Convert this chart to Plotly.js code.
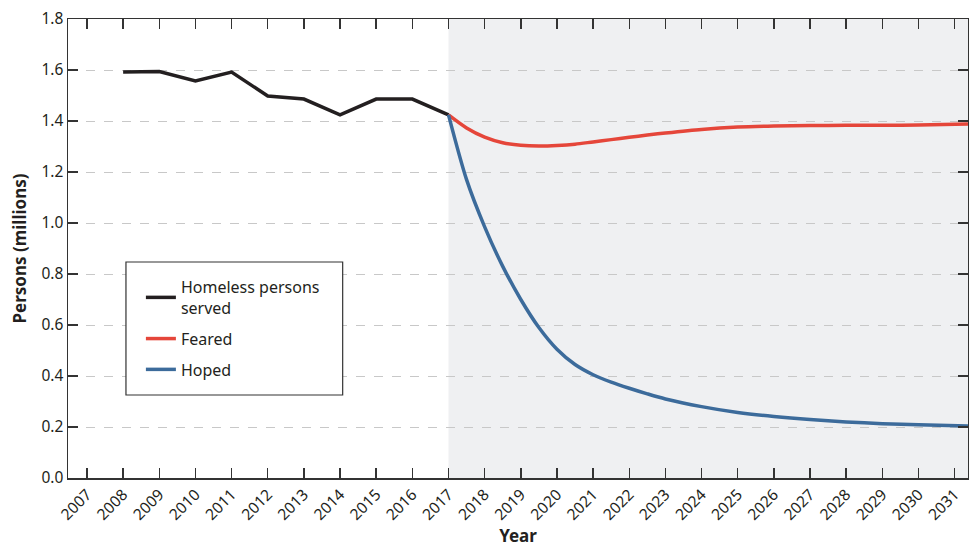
<!DOCTYPE html>
<html>
<head>
<meta charset="utf-8">
<script src="https://cdn.plot.ly/plotly-3.0.1.min.js"></script>
<style>html,body{margin:0;padding:0;background:#fff;}#chart{width:969px;height:547px;}</style>
</head>
<body>
<div id="chart"></div>
<script>
// Historical series
const histYears = [2008, 2009, 2010, 2011, 2012, 2013, 2014, 2015, 2016, 2017];
const histValues = [1.592, 1.594, 1.557, 1.592, 1.498, 1.486, 1.424, 1.486, 1.486, 1.424];

// Projection years
const projYears = [2017, 2017.5, 2018, 2018.5, 2019, 2019.5, 2020, 2020.5, 2021, 2021.5, 2022, 2022.5, 2023, 2024, 2025, 2026, 2027, 2028, 2029, 2030, 2031.37];
const fearedValues = [1.424, 1.373, 1.337, 1.315, 1.305, 1.302, 1.304, 1.309, 1.318, 1.327, 1.336, 1.345, 1.353, 1.367, 1.376, 1.380, 1.382, 1.383, 1.383, 1.384, 1.388];
const hopedValues = [1.424, 1.17, 0.985, 0.83, 0.70, 0.59, 0.505, 0.445, 0.405, 0.376, 0.352, 0.330, 0.310, 0.280, 0.257, 0.241, 0.229, 0.220, 0.213, 0.209, 0.204];

const tickYears = [];
for (let y = 2007; y <= 2031; y++) tickYears.push(y);
const yTicks = [0, 0.2, 0.4, 0.6, 0.8, 1.0, 1.2, 1.4, 1.6, 1.8];
const yTickLabels = ['0.0', '0.2', '0.4', '0.6', '0.8', '1.0', '1.2', '1.4', '1.6', '1.8'];

const FONT = 'Noto Sans, Open Sans, sans-serif';

const traces = [
  {x: histYears, y: histValues, name: 'Homeless persons<br>served', mode: 'lines',
   line: {color: '#231f20', width: 3.5}, legendgroup: 'a'},
  {x: projYears, y: fearedValues, name: 'Feared', mode: 'lines',
   line: {color: '#e5463a', width: 3.5, shape: 'spline', smoothing: 0.8}, legendgroup: 'b'},
  {x: projYears, y: hopedValues, name: 'Hoped', mode: 'lines',
   line: {color: '#3c6b9b', width: 3.5, shape: 'spline', smoothing: 0.8}, legendgroup: 'c'}
];

const layout = {
  width: 969, height: 547,
  margin: {l: 68, r: 1, t: 19, b: 69},
  paper_bgcolor: '#ffffff', plot_bgcolor: '#ffffff',
  font: {family: FONT, color: '#231f20', size: 15},
  showlegend: true,
  legend: {x: 0.081, y: 0.453, xanchor: 'left', yanchor: 'top',
           bgcolor: 'rgba(0,0,0,0)', borderwidth: 0,
           font: {size: 16, family: FONT, color: '#231f20'},
           tracegroupgap: 7, traceorder: 'grouped'},
  xaxis: {
    range: [2006.475, 2031.37],
    tickmode: 'array', tickvals: tickYears, ticktext: tickYears.map(String),
    tickangle: -45, ticks: 'inside', ticklen: 10, tickwidth: 1.5, tickcolor: '#333',
    showline: true, linecolor: '#333', linewidth: 1.5, mirror: 'ticks',
    showgrid: false, zeroline: false,
    tickfont: {size: 15.5, family: FONT, color: '#231f20'},
    title: {text: '<b>Year</b>', font: {size: 17, family: FONT}, standoff: 7}
  },
  yaxis: {
    range: [0, 1.8],
    tickmode: 'array', tickvals: yTicks, ticktext: yTickLabels,
    ticks: 'inside', ticklen: 10, tickwidth: 1.5, tickcolor: '#333',
    showline: true, linecolor: '#333', linewidth: 1.5, mirror: 'ticks',
    showgrid: true, gridcolor: '#c8c8c8', griddash: 'dash', gridwidth: 1,
    zeroline: false,
    tickfont: {size: 15.5, family: FONT, color: '#231f20'},
    title: {text: '<b>Persons (millions)</b>', font: {size: 17, family: FONT}, standoff: 10}
  },
  shapes: [
    {type: 'rect', xref: 'x', yref: 'paper', x0: 2017, x1: 2031.37, y0: 0, y1: 1,
     fillcolor: '#eff0f2', line: {width: 0}, layer: 'below'},
    {type: 'rect', xref: 'paper', yref: 'paper', x0: 0.0644, x1: 0.3052, y0: 0.1808, y1: 0.4706,
     fillcolor: '#ffffff', line: {color: '#333333', width: 1.2}, layer: 'above'}
  ]
};

Plotly.newPlot('chart', traces, layout, {displayModeBar: false, staticPlot: true});
</script>
</body>
</html>
